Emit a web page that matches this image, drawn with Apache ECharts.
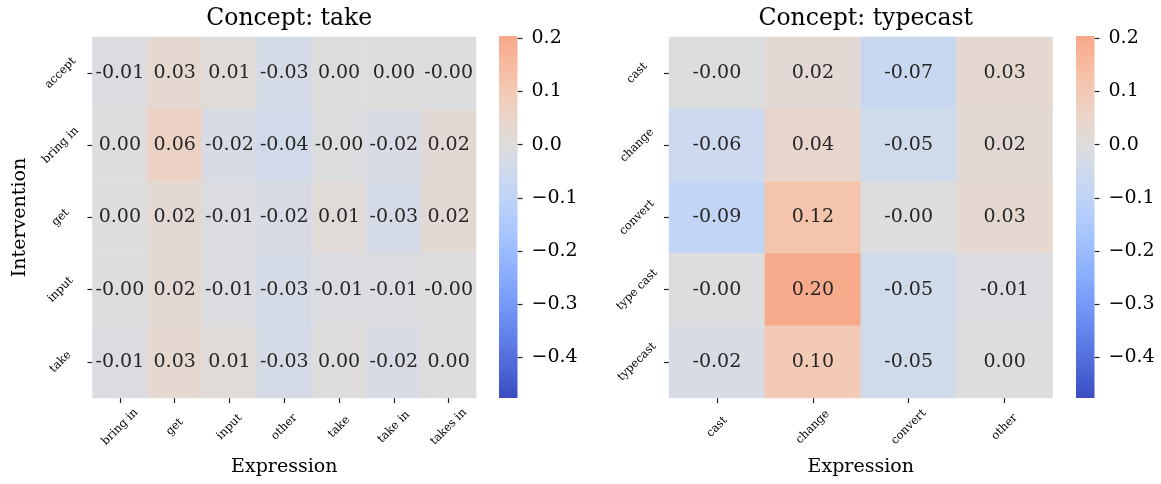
<!DOCTYPE html>
<html>
<head>
<meta charset="utf-8">
<script src="https://cdn.jsdelivr.net/npm/echarts@6/dist/echarts.min.js"></script>
<style>
  html, body { margin: 0; padding: 0; background: #fff; }
  #chart { width: 1161px; height: 484px; }
</style>
</head>
<body>
<div id="chart"></div>
<script>
// datos
const takeCols = ['bring in', 'get', 'input', 'other', 'take', 'take in', 'takes in'];
const takeRows = ['accept', 'bring in', 'get', 'input', 'take'];
const takeValues = [
  [-0.010, 0.030, 0.010, -0.030, 0.002, 0.002, -0.002],
  [0.002, 0.060, -0.020, -0.040, -0.002, -0.020, 0.020],
  [0.002, 0.020, -0.010, -0.020, 0.010, -0.030, 0.020],
  [-0.002, 0.020, -0.010, -0.030, -0.010, -0.010, -0.002],
  [-0.010, 0.030, 0.010, -0.030, 0.002, -0.020, 0.002]
];

const typecastCols = ['cast', 'change', 'convert', 'other'];
const typecastRows = ['cast', 'change', 'convert', 'type cast', 'typecast'];
const typecastValues = [
  [-0.002, 0.020, -0.070, 0.030],
  [-0.060, 0.040, -0.050, 0.020],
  [-0.090, 0.120, -0.002, 0.030],
  [-0.002, 0.200, -0.050, -0.010],
  [-0.020, 0.100, -0.050, 0.002]
];

const cbarTicks = [-0.4, -0.3, -0.2, -0.1, 0.0, 0.1, 0.2];
const vmin = -0.476;
const vmax = 0.204;

// coolwarm (Moreland), centrado en 0
const coolwarm = [
  [59, 76, 192], [68, 90, 204], [77, 104, 215], [87, 117, 225], [98, 130, 234],
  [108, 142, 241], [119, 154, 247], [130, 165, 251], [141, 176, 254], [152, 185, 255],
  [163, 194, 255], [174, 201, 253], [184, 208, 249], [194, 213, 244], [204, 217, 238],
  [213, 219, 230], [221, 221, 221], [229, 216, 209], [236, 211, 197], [241, 204, 185],
  [245, 196, 173], [247, 187, 160], [247, 177, 148], [247, 166, 135], [244, 154, 123],
  [241, 141, 111], [236, 127, 99], [229, 112, 88], [222, 96, 77], [213, 80, 66],
  [203, 62, 56], [192, 40, 47], [180, 4, 38]
];
const vrange = Math.max(vmax, -vmin);
function cmap(v) {
  const t = Math.min(1, Math.max(0, (v + vrange) / (2 * vrange))) * (coolwarm.length - 1);
  const i = Math.min(coolwarm.length - 2, Math.floor(t));
  const f = t - i;
  const c = coolwarm[i].map((a, k) => Math.round(a + (coolwarm[i + 1][k] - a) * f));
  return 'rgb(' + c.join(',') + ')';
}
const nSteps = 60;
const mapColors = [];
const gradStops = [];
for (let i = 0; i <= nSteps; i++) {
  const v = vmin + (vmax - vmin) * i / nSteps;
  mapColors.push(cmap(v));
  gradStops.push({ offset: 1 - i / nSteps, color: cmap(v) });
}

function toCells(values) {
  const out = [];
  values.forEach((row, r) => row.forEach((v, c) => out.push([c, r, v])));
  return out;
}

const FONT = 'DejaVu Serif';
const lefts = [92.5, 669];
const cbLefts = [499, 1076];
const heatW = 383.5, heatH = 361, heatTop = 37;

function heatAxes(cols, rows, gi, showName) {
  return {
    x: {
      type: 'category', data: cols, gridIndex: gi,
      axisLine: { show: false },
      axisTick: { show: true, alignWithLabel: true, length: 5, lineStyle: { color: '#222', width: 1.2 } },
      axisLabel: { interval: 0, rotate: 45, align: 'center', verticalAlign: 'middle', margin: 29,
        fontFamily: FONT, fontSize: 11.5, color: '#000' },
      splitLine: { show: false },
      name: 'Expression', nameLocation: 'middle', nameGap: 60,
      nameTextStyle: { fontFamily: FONT, fontSize: 19, color: '#000' }
    },
    y: {
      type: 'category', data: rows, gridIndex: gi, inverse: true,
      axisLine: { show: false },
      axisTick: { show: true, alignWithLabel: true, length: 5, lineStyle: { color: '#222', width: 1.2 } },
      axisLabel: { interval: 0, rotate: 45, align: 'center', verticalAlign: 'middle', margin: 32,
        fontFamily: FONT, fontSize: 11.5, color: '#000' },
      splitLine: { show: false },
      name: showName ? 'Intervention' : '', nameLocation: 'middle', nameGap: 63,
      nameTextStyle: { fontFamily: FONT, fontSize: 19, color: '#000' }
    }
  };
}

function cbarAxes(gi) {
  return {
    x: { type: 'category', data: ['c'], gridIndex: gi, show: false },
    y: {
      type: 'value', gridIndex: gi, min: vmin, max: vmax, position: 'right',
      axisLine: { show: false },
      splitLine: { show: false },
      axisTick: { show: true, customValues: cbarTicks, length: 5, lineStyle: { color: '#222', width: 1.2 } },
      axisLabel: {
        customValues: cbarTicks, margin: 14, fontFamily: FONT, fontSize: 19, color: '#000',
        formatter: v => (v < -1e-9 ? '\u2212' + Math.abs(v).toFixed(1) : Math.abs(v).toFixed(1))
      }
    }
  };
}

const a0 = heatAxes(takeCols, takeRows, 0, true);
const a1 = cbarAxes(1);
const a2 = heatAxes(typecastCols, typecastRows, 2, false);
const a3 = cbarAxes(3);

function cbarSeries(xi) {
  return {
    type: 'custom', xAxisIndex: xi, yAxisIndex: xi, silent: true,
    data: [[0, vmin, vmax]],
    renderItem: (params, api) => {
      const p0 = api.coord([0, api.value(1)]);
      const p1 = api.coord([0, api.value(2)]);
      const w = api.size([1, 0])[0];
      return {
        type: 'rect',
        shape: { x: p0[0] - w / 2, y: p1[1], width: w, height: p0[1] - p1[1] },
        style: { fill: new echarts.graphic.LinearGradient(0, 0, 0, 1, gradStops) }
      };
    }
  };
}

function heatSeries(values, xi) {
  return {
    type: 'heatmap', xAxisIndex: xi, yAxisIndex: xi,
    data: toCells(values),
    itemStyle: { borderWidth: 0 },
    emphasis: { disabled: true },
    label: {
      show: true, fontFamily: FONT, fontSize: 19, color: '#262626',
      formatter: p => p.value[2].toFixed(2)
    }
  };
}

const gridBase = { outerBoundsMode: 'none', containLabel: false };

const chart = echarts.init(document.getElementById('chart'), null, { renderer: 'canvas' });
chart.setOption({
  animation: false,
  backgroundColor: '#fff',
  title: [
    { text: 'Concept: take', left: lefts[0] + heatW / 2, top: 2, textAlign: 'center',
      textStyle: { fontFamily: FONT, fontSize: 23.5, fontWeight: 'normal', color: '#000' } },
    { text: 'Concept: typecast', left: lefts[1] + heatW / 2, top: 2, textAlign: 'center',
      textStyle: { fontFamily: FONT, fontSize: 23.5, fontWeight: 'normal', color: '#000' } }
  ],
  grid: [
    Object.assign({ left: lefts[0], top: heatTop, width: heatW, height: heatH }, gridBase),
    Object.assign({ left: cbLefts[0], top: 36, width: 18.5, height: 362 }, gridBase),
    Object.assign({ left: lefts[1], top: heatTop, width: heatW, height: heatH }, gridBase),
    Object.assign({ left: cbLefts[1], top: 36, width: 18.5, height: 362 }, gridBase)
  ],
  xAxis: [a0.x, a1.x, a2.x, a3.x],
  yAxis: [a0.y, a1.y, a2.y, a3.y],
  visualMap: {
    type: 'continuous', show: false, seriesIndex: [0, 2], dimension: 2,
    min: vmin, max: vmax, inRange: { color: mapColors }
  },
  series: [
    heatSeries(takeValues, 0),
    cbarSeries(1),
    heatSeries(typecastValues, 2),
    cbarSeries(3)
  ]
});
window.addEventListener('resize', chart.resize);
</script>
</body>
</html>
